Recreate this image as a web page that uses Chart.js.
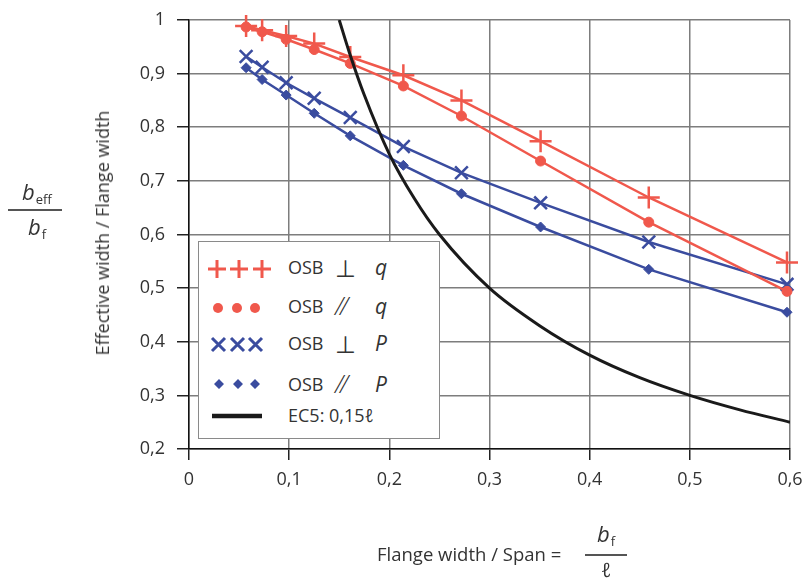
<!DOCTYPE html>
<html>
<head>
<meta charset="utf-8">
<script src="https://cdn.jsdelivr.net/npm/chart.js@4/dist/chart.umd.min.js"></script>
<style>
  body { margin: 0; background: #fff; }
  #wrap { position: relative; width: 806px; height: 578px; font-family: 'Open Sans', sans-serif; color: #333; }
  #chart { position: absolute; left: 0; top: 0; }
  .lbl { position: absolute; white-space: nowrap; }
  .it { font-style: italic; }
  #legend { position: absolute; left: 198px; top: 241px; width: 240px; height: 196px;
            border: 1.5px solid #8a8a8a; background: #fff; }
  #legend svg { position: absolute; left: 0; top: 0; }
  .row { position: absolute; left: 89px; font-size: 18px; white-space: nowrap; }
  .sym { position: absolute; top: 0; }
  .perp { left: 47px; font-size: 24px; top: -4px; font-weight: 300; }
  .par { left: 47px; font-size: 25px; top: -6px; font-style: italic; letter-spacing: -3px; font-weight: 300; }
  .var { position: absolute; left: 87px; top: -2px; font-size: 21px; font-style: italic; }
</style>
</head>
<body>
<div id="wrap">
  <canvas id="chart" width="806" height="578"></canvas>

  <!-- y axis titles -->
  <div class="lbl" style="left:102px; top:233px; font-size:18px; transform: translate(-50%,-50%) rotate(-90deg);">Effective width / Flange width</div>
  <div class="lbl it" style="left:22px; top:176px; font-size:22px;">b<span style="font-style:normal; font-size:13px; position:relative; top:4px; left:1px;">eff</span></div>
  <div style="position:absolute; left:8px; top:209px; width:54px; height:1.5px; background:#555;"></div>
  <div class="lbl it" style="left:28px; top:211px; font-size:22px;">b<span style="font-style:normal; font-size:13px; position:relative; top:4px; left:1px;">f</span></div>

  <!-- x axis title -->
  <div class="lbl" style="left:377px; top:541px; font-size:18.5px;">Flange width / Span =</div>
  <div class="lbl it" style="left:597px; top:518px; font-size:22px;">b<span style="font-style:normal; font-size:13px; position:relative; top:4px; left:1px;">f</span></div>
  <div style="position:absolute; left:585px; top:554px; width:42px; height:1.5px; background:#555;"></div>
  <div class="lbl it" style="left:601px; top:556px; font-size:20px;">ℓ</div>

  <!-- legend -->
  <div id="legend">
    <svg width="240" height="196">
      <g stroke="#f0584c" stroke-width="3">
        <path d="M9 27 h18 M18 18 v18 M31 27 h18 M40 18 v18 M54 27 h18 M63 18 v18"/>
      </g>
      <g fill="#f0584c">
        <circle cx="19" cy="66" r="5"/><circle cx="38" cy="66" r="5"/><circle cx="56" cy="66" r="5"/>
      </g>
      <g stroke="#3a4c9f" stroke-width="3">
        <path d="M13 96 l13 13 M26 96 l-13 13 M32 96 l13 13 M45 96 l-13 13 M50 96 l13 13 M63 96 l-13 13"/>
      </g>
      <g fill="#3a4c9f">
        <path d="M20 137 l5 5 l-5 5 l-5 -5 z M39 137 l5 5 l-5 5 l-5 -5 z M56 137 l5 5 l-5 5 l-5 -5 z"/>
      </g>
      <path d="M13 174 h50" stroke="#1a1a1a" stroke-width="4.5"/>
    </svg>
    <div class="row" style="top:13px;">OSB<span class="sym perp">⊥</span><span class="var">q</span></div>
    <div class="row" style="top:52px;">OSB<span class="sym par">//</span><span class="var">q</span></div>
    <div class="row" style="top:89px;">OSB<span class="sym perp">⊥</span><span class="var">P</span></div>
    <div class="row" style="top:130px;">OSB<span class="sym par">//</span><span class="var">P</span></div>
    <div class="row" style="top:161px;">EC5: 0,15<span class="it">ℓ</span></div>
  </div>
</div>

<script>
// Flange width / span (b_f / l) for each test point
const ratios = [0.057, 0.073, 0.097, 0.125, 0.161, 0.214, 0.272, 0.351, 0.459, 0.597];

// Effective width / flange width
const osbPerpQ = [0.989, 0.981, 0.970, 0.956, 0.931, 0.897, 0.850, 0.774, 0.669, 0.548];
const osbParQ  = [0.987, 0.978, 0.964, 0.945, 0.919, 0.877, 0.821, 0.737, 0.623, 0.494];
const osbPerpP = [0.932, 0.912, 0.883, 0.854, 0.818, 0.764, 0.715, 0.659, 0.586, 0.507];
const osbParP  = [0.911, 0.889, 0.860, 0.826, 0.784, 0.729, 0.676, 0.614, 0.535, 0.455];

// EC5 curve
const ec5X = [0.15, 0.16, 0.175, 0.2, 0.225, 0.25, 0.3, 0.35, 0.4, 0.45, 0.5, 0.55, 0.6];
const ec5Y = [1.0, 0.94, 0.86, 0.75, 0.667, 0.6, 0.5, 0.43, 0.375, 0.333, 0.3, 0.273, 0.25];

const xTicks = ['0', '0,1', '0,2', '0,3', '0,4', '0,5', '0,6'];
const yTicks = ['0,2', '0,3', '0,4', '0,5', '0,6', '0,7', '0,8', '0,9', '1'];

const RED = '#f0584c';
const BLUE = '#3a4c9f';

function pts(xs, ys) {
    return xs.map((x, i) => ({ x: x, y: ys[i] }));
}

function serie(label, values, color, style, radius, width) {
    return {
        label: label,
        data: pts(ratios, values),
        borderColor: color,
        backgroundColor: color,
        borderWidth: 2.5,
        pointStyle: style,
        pointRadius: radius,
        pointBorderWidth: width,
        pointBorderColor: color,
        pointBackgroundColor: color,
        tension: 0,
        clip: false,
        order: 1,
    };
}

new Chart(document.getElementById('chart'), {
    type: 'line',
    data: {
        datasets: [
            {
                label: 'EC5: 0,15ℓ',
                data: pts(ec5X, ec5Y),
                borderColor: '#1a1a1a',
                borderWidth: 3,
                pointRadius: 0,
                cubicInterpolationMode: 'monotone',
                order: 0,
            },
            serie('OSB ⊥ q', osbPerpQ, RED, 'cross', 11, 2.5),
            serie('OSB // q', osbParQ, RED, 'circle', 5, 1),
            serie('OSB ⊥ P', osbPerpP, BLUE, 'crossRot', 9, 2.5),
            serie('OSB // P', osbParP, BLUE, 'rectRot', 5, 1),
        ],
    },
    options: {
        responsive: false,
        animation: false,
        devicePixelRatio: 1,
        layout: { padding: { top: 20, right: 16, left: 0, bottom: 0 } },
        plugins: { legend: { display: false }, tooltip: { enabled: false } },
        scales: {
            x: {
                type: 'linear',
                min: 0, max: 0.6,
                afterFit: s => { s.height = 129; s.paddingLeft = 0; s.paddingRight = 0; },
                afterBuildTicks: s => { s.ticks = xTicks.map((t, i) => ({ value: i / 10 })); },
                ticks: {
                    callback: (v, i) => xTicks[i],
                    color: '#333',
                    font: { family: "'Open Sans', sans-serif", size: 18 },
                    padding: 9,
                    maxRotation: 0,
                },
                grid: { color: '#7d7d7d', lineWidth: 1.5, tickLength: 11, tickColor: '#222' },
                border: { color: '#111', width: 1.5 },
            },
            y: {
                type: 'linear',
                min: 0.2, max: 1,
                afterFit: s => { s.width = 189; s.paddingTop = 0; s.paddingBottom = 0; },
                afterBuildTicks: s => { s.ticks = yTicks.map((t, i) => ({ value: 0.2 + i / 10 })); },
                ticks: {
                    callback: (v, i) => yTicks[i],
                    color: '#333',
                    font: { family: "'Open Sans', sans-serif", size: 18 },
                    padding: 12,
                },
                grid: { color: '#7d7d7d', lineWidth: 1.5, tickLength: 12, tickColor: '#222' },
                border: { color: '#111', width: 1.5 },
            },
        },
    },
});
</script>
</body>
</html>
